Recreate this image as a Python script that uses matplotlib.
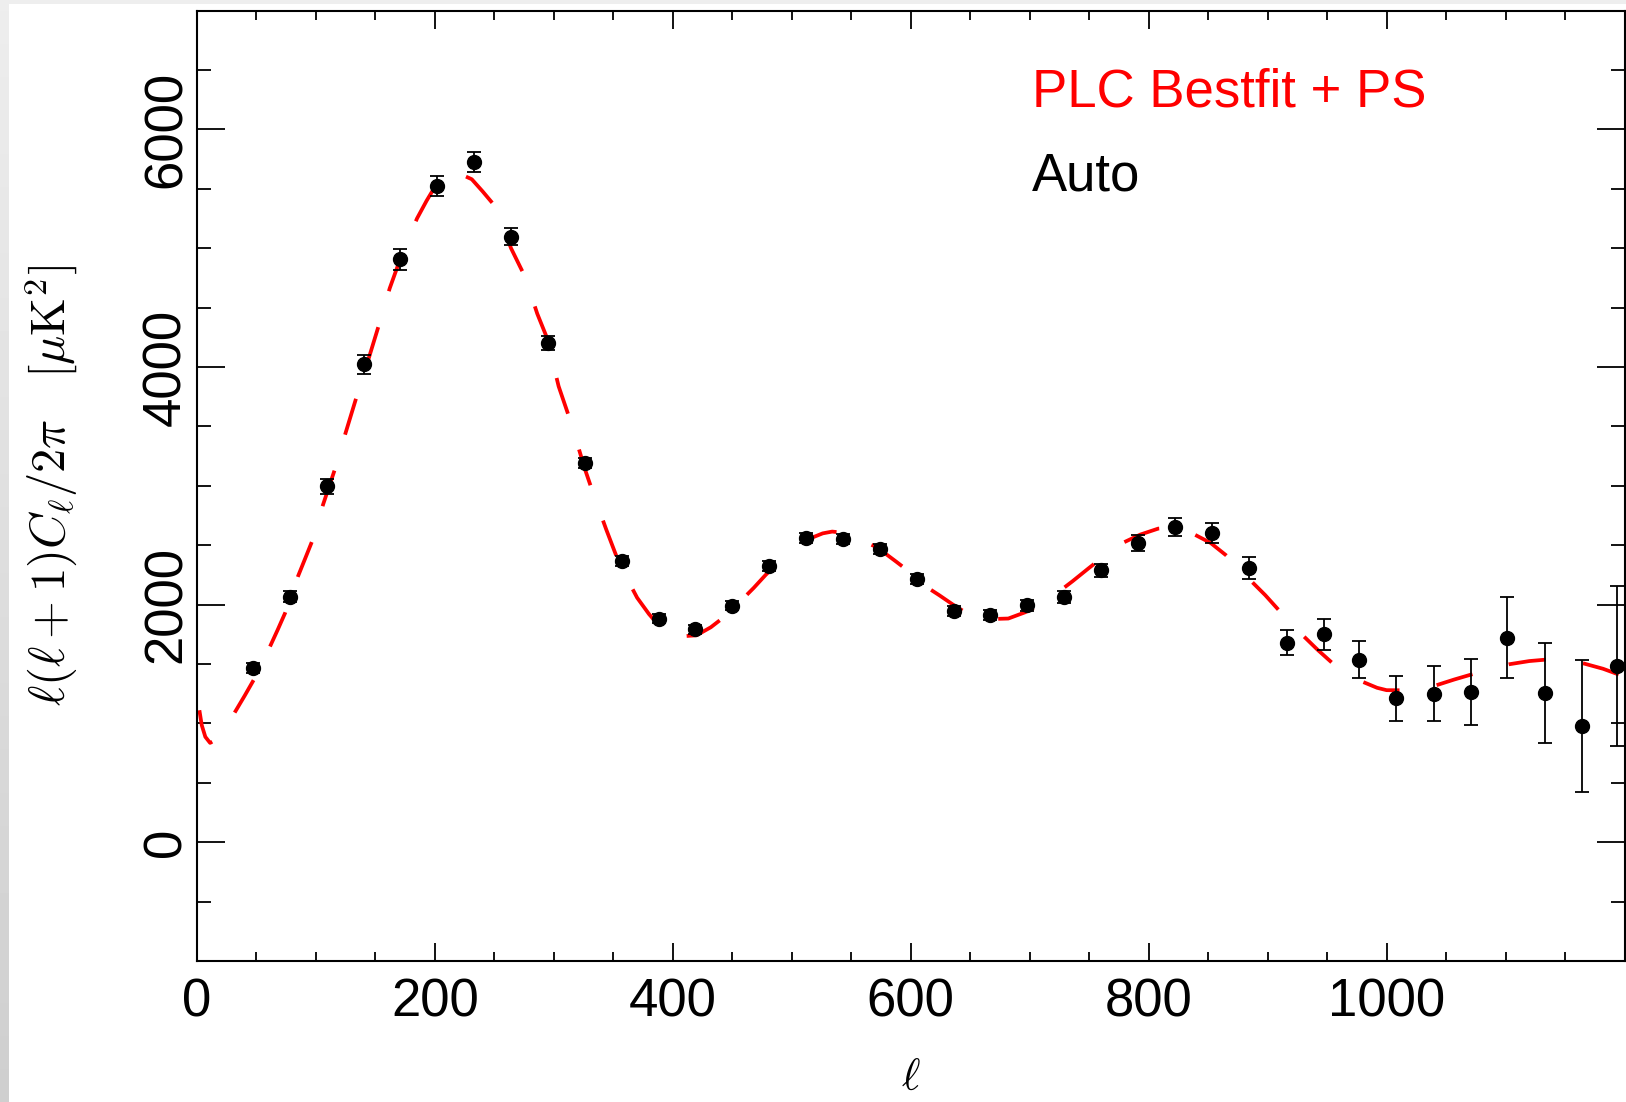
import matplotlib

matplotlib.use('Agg')
import matplotlib.pyplot as plt
import numpy as np

# binned auto spectrum
ell_bin = [47, 78, 109, 140, 171, 202, 233, 264, 295, 326, 357, 388, 419, 450,
           481, 512, 543, 574, 605, 636, 667, 698, 729, 760, 791, 822, 853, 884,
           916, 947, 977, 1008, 1040, 1071, 1101, 1133, 1164, 1194]
dl_bin = [1467, 2068, 2995, 4022, 4906, 5522, 5727, 5098, 4201, 3192, 2368, 1880,
          1792, 1990, 2327, 2560, 2556, 2472, 2219, 1944, 1911, 1995, 2065, 2290,
          2519, 2654, 2607, 2312, 1681, 1752, 1538, 1212, 1250, 1263, 1723, 1257,
          979, 1481]
dl_err = [44, 48, 61, 79, 85, 85, 81, 74, 58, 44, 40, 38, 38, 38, 40, 42, 42, 42,
          42, 42, 44, 46, 50, 56, 66, 77, 84, 93, 105, 131, 153, 188, 233, 278,
          343, 422, 556, 673]

# PLC bestfit + point sources model
ell_model = [2, 4, 7, 11, 18, 25, 32, 40, 48, 55, 62, 68, 74, 85, 91, 97, 106, 116,
             125, 134, 143, 153, 162, 171, 178, 185, 193, 200, 208, 215, 222, 231,
             240, 251, 264, 276, 286, 294, 304, 314, 326, 333, 344, 353, 362, 370,
             380, 389, 400, 410, 420, 432, 445, 456, 468, 478, 489, 500, 509, 518,
             526, 534, 544, 552, 561, 570, 578, 588, 599, 610, 624, 637, 650, 665,
             682, 696, 710, 722, 736, 750, 764, 778, 793, 808, 820, 830, 838, 852,
             865, 876, 886, 898, 909, 920, 930, 942, 954, 967, 980, 992, 1000, 1012,
             1028, 1042, 1057, 1072, 1088, 1103, 1120, 1135, 1145, 1155, 1166, 1182,
             1197, 1200]
dl_model = [1111, 985, 887, 836, 875, 975, 1097, 1232, 1372, 1512, 1661, 1792, 1928,
            2241, 2390, 2540, 2843, 3142, 3449, 3745, 4029, 4357, 4663, 4914, 5090,
            5252, 5400, 5517, 5590, 5620, 5622, 5581, 5480, 5349, 5000, 4755, 4450,
            4251, 3838, 3544, 3144, 2938, 2633, 2397, 2210, 2058, 1920, 1816, 1760,
            1735, 1742, 1810, 1911, 2020, 2141, 2250, 2356, 2450, 2520, 2568, 2600,
            2615, 2604, 2570, 2530, 2490, 2435, 2360, 2275, 2170, 2079, 1990, 1911,
            1878, 1883, 1935, 2001, 2090, 2197, 2310, 2420, 2519, 2590, 2640, 2650,
            2630, 2593, 2520, 2416, 2310, 2200, 2080, 1958, 1850, 1737, 1620, 1512,
            1430, 1350, 1300, 1280, 1279, 1300, 1322, 1370, 1414, 1460, 1498, 1525,
            1538, 1540, 1530, 1504, 1460, 1405, 1395]

plt.rcParams['font.family'] = ['Liberation Sans', 'DejaVu Sans']
plt.rcParams['mathtext.fontset'] = 'cm'

fig = plt.figure(figsize=(16.26, 11.02), dpi=100)

# grey strip along the left and top border of the original screenshot
strip = fig.add_axes([0, 0, 8 / 1626, 1])
strip.imshow(np.linspace(0.93, 0.81, 100).reshape(-1, 1), cmap='gray', vmin=0, vmax=1,
             aspect='auto', extent=[0, 1, 0, 1])
strip.set_axis_off()
top = fig.add_axes([0, 1 - 4 / 1102, 1, 4 / 1102])
top.imshow(np.full((1, 2), 0.93), cmap='gray', vmin=0, vmax=1, aspect='auto')
top.set_axis_off()

ax = fig.add_axes([197 / 1626, 141 / 1102, 1427.5 / 1626, 950.3 / 1102])
ax.plot(ell_model, dl_model, color='red', lw=2.7, linestyle=(0, (10, 10)), zorder=2)
ax.errorbar(ell_bin, dl_bin, yerr=dl_err, fmt='o', color='black', ms=10,
            elinewidth=1.3, capsize=5, capthick=1.3, zorder=3)

ax.set_xlim(0, 1200)
ax.set_ylim(-1000, 7000)
ax.set_xticks([0, 200, 400, 600, 800, 1000])
ax.set_xticks(np.arange(0, 1201, 50), minor=True)
ax.set_yticks([0, 2000, 4000, 6000])
ax.set_yticks(np.arange(-1000, 7001, 500), minor=True)

ax.tick_params(axis='both', which='both', direction='in', top=True, right=True,
               width=1.3, labelsize=38)
ax.tick_params(axis='x', which='major', length=13, pad=12)
ax.tick_params(axis='x', which='minor', length=6.7)
ax.tick_params(axis='y', which='major', length=20, pad=4)
ax.tick_params(axis='y', which='minor', length=10)
for lab in ax.get_yticklabels():
    lab.set_rotation(90)
    lab.set_va('center')
for sp in ax.spines.values():
    sp.set_linewidth(1.5)

ax.set_xlabel(r'$\ell$', fontsize=32, labelpad=22)
ax.set_ylabel(r'$\ell(\ell+1)C_\ell/2\pi \quad [\mu{\rm K}^2]$', fontsize=35, labelpad=44)

ax.text(0.585, 0.8997, 'PLC Bestfit + PS', color='red', fontsize=38,
        transform=ax.transAxes, va='baseline')
ax.text(0.585, 0.811, 'Auto', color='black', fontsize=38,
        transform=ax.transAxes, va='baseline')

fig.savefig('out.png', dpi=100)
